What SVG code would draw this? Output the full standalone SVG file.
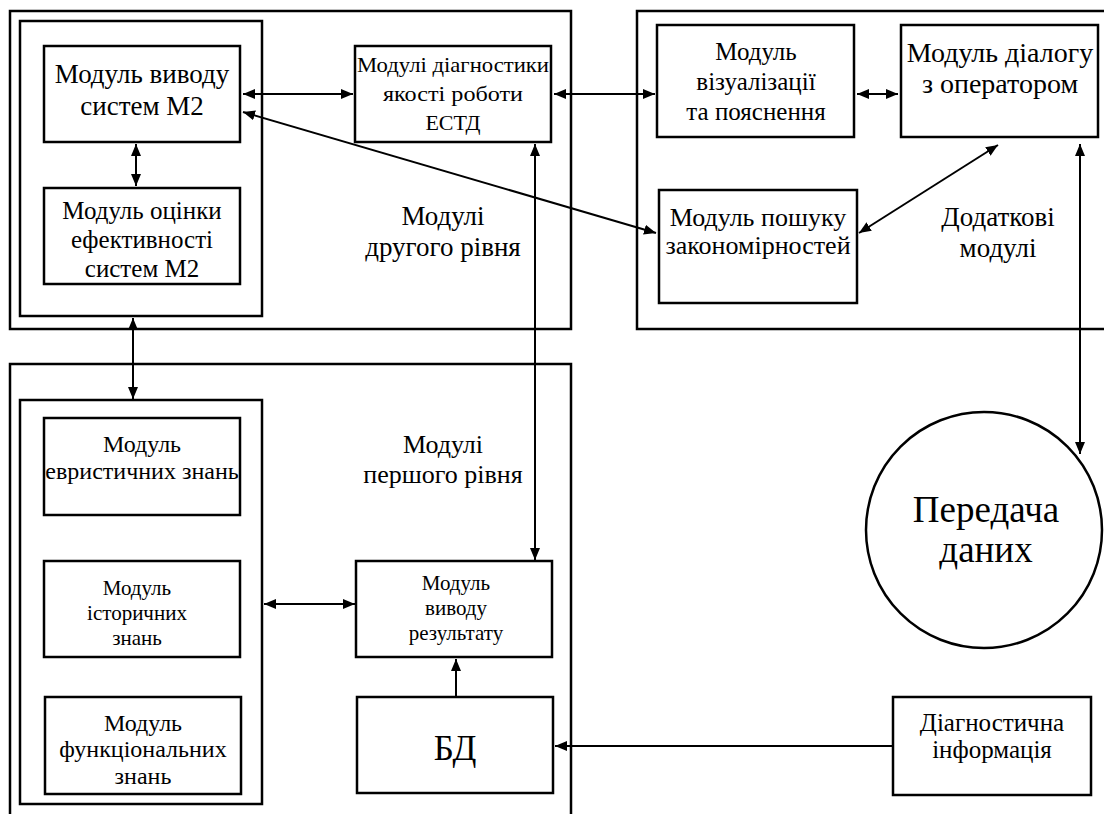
<svg xmlns="http://www.w3.org/2000/svg" width="1104" height="814" viewBox="0 0 1104 814">
<style>
.b{fill:#fff;stroke:#000;stroke-width:2.5}
.g{fill:none;stroke:#000;stroke-width:2.5}
.t{fill:#000;text-anchor:middle}
.c{fill:none;stroke:#000;stroke-width:2}
</style>
<defs>
<marker id="ah" viewBox="0 0 12 10" refX="12" refY="5" markerWidth="12" markerHeight="10" orient="auto-start-reverse" markerUnits="userSpaceOnUse"><path d="M0,0 L12,5 L0,10 z" fill="#000"/></marker>
</defs>
<rect width="1104" height="814" fill="#fff"/>
<g font-family="Liberation Serif, Times New Roman, Tinos, DejaVu Serif, Noto Serif, serif">
<g id="group-level2"><rect class="g" x="10" y="11" width="561" height="318"/>
<rect class="g" x="20" y="21" width="242" height="295"/>
<text class="t" font-size="27" x="443" y="225">Модулі</text><text class="t" font-size="27" x="443" y="256">другого рівня</text></g>
<g id="group-extra"><rect class="g" x="637" y="11" width="480" height="318"/>
<text class="t" font-size="27" x="998" y="226">Додаткові</text><text class="t" font-size="27" x="998" y="257">модулі</text></g>
<g id="group-level1"><rect class="g" x="10" y="364" width="561" height="470"/>
<rect class="g" x="20" y="400" width="242" height="404"/>
<text class="t" font-size="26" x="443" y="453">Модулі</text><text class="t" font-size="26" x="443" y="483">першого рівня</text></g>

<g id="n-m2"><rect class="b" x="44" y="46" width="196" height="96"/>
<text class="t" font-size="27" x="142" y="83">Модуль виводу</text><text class="t" font-size="27" x="142" y="115">систем М2</text></g>
<g id="n-eval"><rect class="b" x="44" y="188" width="196" height="96"/>
<text class="t" font-size="25" x="142" y="219">Модуль оцінки</text><text class="t" font-size="25" x="142" y="248">ефективності</text><text class="t" font-size="25" x="142" y="277">систем М2</text></g>
<g id="n-diag"><rect class="b" x="355" y="46" width="196" height="96"/>
<text class="t" font-size="22" x="453" y="72" textLength="192" lengthAdjust="spacingAndGlyphs">Модулі діагностики</text><text class="t" font-size="22" x="453" y="101" textLength="140" lengthAdjust="spacingAndGlyphs">якості роботи</text><text class="t" font-size="22" x="453" y="130">ЕСТД</text></g>
<g id="n-vis"><rect class="b" x="657" y="25" width="197" height="112"/>
<text class="t" font-size="25" x="756" y="60">Модуль</text><text class="t" font-size="25" x="756" y="90">візуалізації</text><text class="t" font-size="25" x="756" y="120">та пояснення</text></g>
<g id="n-dialog"><rect class="b" x="901" y="25" width="197" height="112"/>
<text class="t" font-size="28" x="1000" y="62">Модуль діалогу</text><text class="t" font-size="28" x="1000" y="93">з оператором</text></g>
<g id="n-search"><rect class="b" x="659" y="190" width="198" height="113"/>
<text class="t" font-size="26" x="758" y="226">Модуль пошуку</text><text class="t" font-size="26" x="758" y="254">закономірностей</text></g>

<g id="n-heur"><rect class="b" x="44" y="418" width="196" height="97"/>
<text class="t" font-size="24" x="142" y="452">Модуль</text><text class="t" font-size="24" x="142" y="479">евристичних знань</text></g>
<g id="n-hist"><rect class="b" x="44" y="561" width="196" height="96"/>
<text class="t" font-size="21" x="137" y="595">Модуль</text><text class="t" font-size="21" x="137" y="620">історичних</text><text class="t" font-size="21" x="137" y="645">знань</text></g>
<g id="n-func"><rect class="b" x="45" y="697" width="196" height="97"/>
<text class="t" font-size="24" x="143" y="731">Модуль</text><text class="t" font-size="24" x="143" y="757">функціональних</text><text class="t" font-size="24" x="143" y="784">знань</text></g>
<g id="n-result"><rect class="b" x="356" y="561" width="196" height="96"/>
<text class="t" font-size="21" x="456" y="590">Модуль</text><text class="t" font-size="21" x="456" y="615">виводу</text><text class="t" font-size="21" x="456" y="640">результату</text></g>
<g id="n-db"><rect class="b" x="357" y="697" width="196" height="96"/>
<text class="t" font-size="35" x="455" y="760">БД</text></g>
<g id="n-info"><rect class="b" x="893" y="697" width="198" height="98"/>
<text class="t" font-size="25" x="992" y="731">Діагностична</text><text class="t" font-size="25" x="992" y="758">інформація</text></g>
<g id="n-transfer"><circle cx="984" cy="530" r="118" fill="#fff" stroke="#000" stroke-width="2.5"/>
<text class="t" font-size="37" x="986" y="522">Передача</text><text class="t" font-size="37" x="986" y="562">даних</text></g>
</g>
<g id="connectors">
<path class="c" d="M243,94 H353" marker-start="url(#ah)" marker-end="url(#ah)"/>
<path class="c" d="M554,94 H655" marker-start="url(#ah)" marker-end="url(#ah)"/>
<path class="c" d="M857,94 H898" marker-start="url(#ah)" marker-end="url(#ah)"/>
<path class="c" d="M243,112 L656,233" marker-start="url(#ah)" marker-end="url(#ah)"/>
<path class="c" d="M859,233 L998,145" marker-start="url(#ah)" marker-end="url(#ah)"/>
<path class="c" d="M136,144 V186" marker-start="url(#ah)" marker-end="url(#ah)"/>
<path class="c" d="M133,318 V399" marker-start="url(#ah)" marker-end="url(#ah)"/>
<path class="c" d="M535,144 V560" marker-start="url(#ah)" marker-end="url(#ah)"/>
<path class="c" d="M1080,144 V454" marker-start="url(#ah)" marker-end="url(#ah)"/>
<path class="c" d="M264,604 H355" marker-start="url(#ah)" marker-end="url(#ah)"/>
<path class="c" d="M456,697 V659" marker-end="url(#ah)"/>
<path class="c" d="M893,746 H555" marker-end="url(#ah)"/>
</g>
</svg>
